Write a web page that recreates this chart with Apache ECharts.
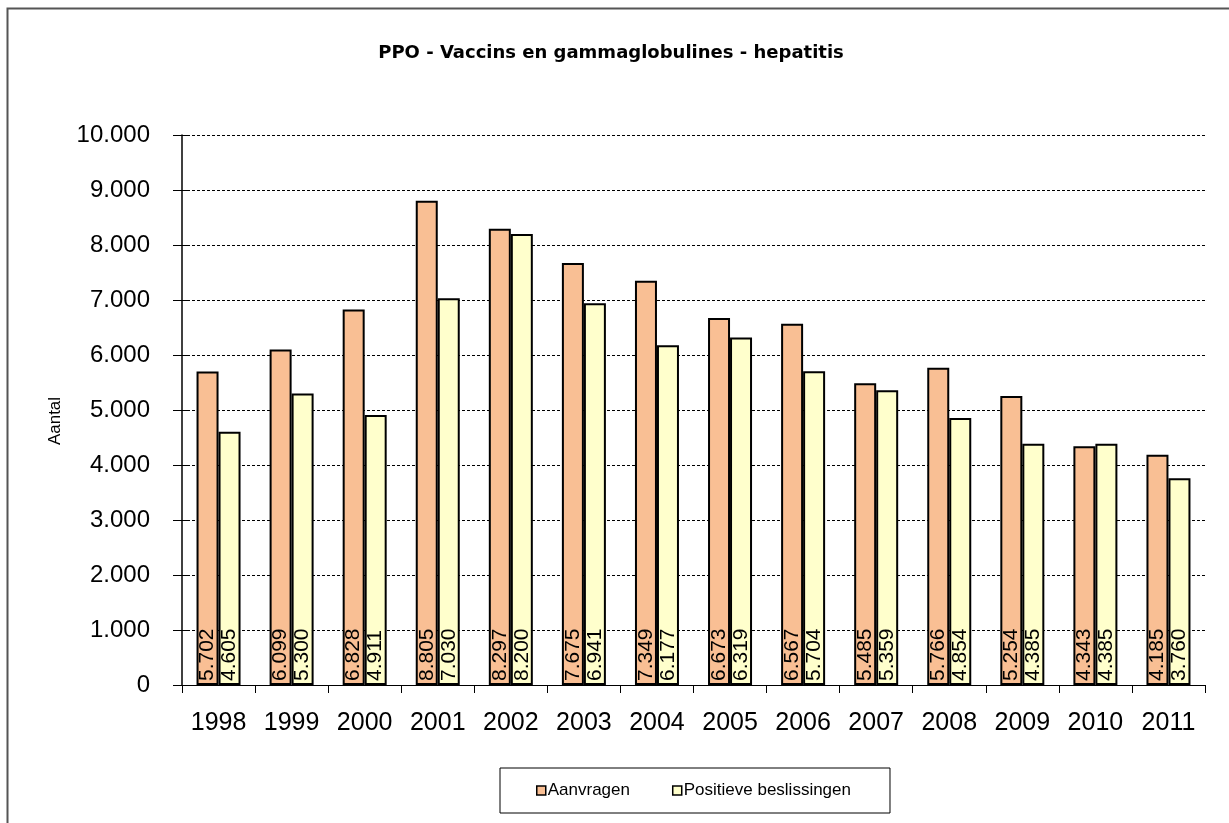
<!DOCTYPE html>
<html>
<head>
<meta charset="utf-8">
<script src="https://cdn.jsdelivr.net/npm/echarts@6/dist/echarts.min.js"></script>
<style>
  html, body { margin: 0; padding: 0; background: #fff; }
  #chart { width: 1229px; height: 823px; }
</style>
</head>
<body>
<div id="chart"></div>
<script>
// Jaren en aantallen per jaar
const years = ['1998', '1999', '2000', '2001', '2002', '2003', '2004', '2005', '2006', '2007', '2008', '2009', '2010', '2011'];
const aanvragen = [5702, 6099, 6828, 8805, 8297, 7675, 7349, 6673, 6567, 5485, 5766, 5254, 4343, 4185];
const positief = [4605, 5300, 4911, 7030, 8200, 6941, 6177, 6319, 5704, 5359, 4854, 4385, 4385, 3760];

// Duizendtallen met een punt scheiden (Nederlandse notatie)
function fmt(v) {
  return String(Math.round(v)).replace(/\B(?=(\d{3})+(?!\d))/g, '.');
}

const font = 'Liberation Sans, Arial, sans-serif';
const chart = echarts.init(document.getElementById('chart'));

const valueLabel = {
  show: true,
  position: 'insideBottom',
  rotate: 90,
  align: 'left',
  verticalAlign: 'middle',
  distance: 4,
  fontFamily: font,
  fontSize: 21,
  color: '#000',
  formatter: p => fmt(p.value)
};

chart.setOption({
  animation: false,
  backgroundColor: '#fff',
  title: {
    text: 'PPO - Vaccins en gammaglobulines - hepatitis',
    left: 606,
    textAlign: 'center',
    top: 39,
    textStyle: { fontFamily: 'DejaVu Sans, sans-serif', fontSize: 18, fontWeight: 'bold', color: '#000' }
  },
  graphic: [
    {
      type: 'rect',
      shape: { x: 7.5, y: 8.5, width: 1300, height: 900 },
      style: { fill: 'none', stroke: '#555', lineWidth: 2 },
      silent: true
    },
    {
      // as-titel, verticaal
      type: 'text',
      x: 55,
      y: 421,
      rotation: Math.PI / 2,
      style: {
        text: 'Aantal',
        font: '17px ' + font,
        fill: '#000',
        align: 'center',
        verticalAlign: 'middle'
      },
      silent: true
    }
  ],
  legend: {
    top: 768,
    left: 500,
    padding: [14, 39, 14, 36],
    itemGap: 42,
    itemWidth: 9,
    itemHeight: 9,
    itemStyle: { borderColor: '#000', borderWidth: 1.5 },
    borderColor: '#000',
    borderWidth: 1,
    icon: 'rect',
    textStyle: { fontFamily: font, fontSize: 17, color: '#000', padding: [0, 0, 0, -3] },
    data: ['Aanvragen', 'Positieve beslissingen']
  },
  grid: { left: 182, right: 24, top: 135, bottom: 138 },
  xAxis: {
    type: 'category',
    data: years,
    axisLine: { lineStyle: { color: '#000', width: 1 } },
    axisTick: { show: true, length: 8, lineStyle: { color: '#000' } },
    axisLabel: { fontFamily: font, fontSize: 25, color: '#000', margin: 26 }
  },
  yAxis: [
    {
      type: 'value',
      min: 0,
      max: 10000,
      interval: 1000,
      axisLine: { show: true, lineStyle: { color: '#000', width: 1.5 } },
      axisTick: { show: true, length: 9, lineStyle: { color: '#000' } },
      axisLabel: { fontFamily: font, fontSize: 24, color: '#000', margin: 32, formatter: v => fmt(v) },
      splitLine: { show: true, lineStyle: { color: '#000', type: [3, 2], width: 1 } }
    },
    {
      // binnenste helft van de kruisende maatstreepjes
      type: 'value',
      position: 'left',
      min: 0,
      max: 10000,
      interval: 1000,
      axisLine: { show: false },
      axisTick: { show: true, inside: true, length: 8, lineStyle: { color: '#000' } },
      axisLabel: { show: false },
      splitLine: { show: false }
    }
  ],
  series: [
    {
      name: 'Aanvragen',
      type: 'bar',
      data: aanvragen,
      barWidth: 22,
      barGap: '0%',
      itemStyle: { color: '#F9BF94', borderColor: '#000', borderWidth: 2 },
      label: valueLabel
    },
    {
      name: 'Positieve beslissingen',
      type: 'bar',
      data: positief,
      barWidth: 22,
      barGap: '0%',
      itemStyle: { color: '#FFFFCC', borderColor: '#000', borderWidth: 2 },
      label: valueLabel
    }
  ]
});
</script>
</body>
</html>
